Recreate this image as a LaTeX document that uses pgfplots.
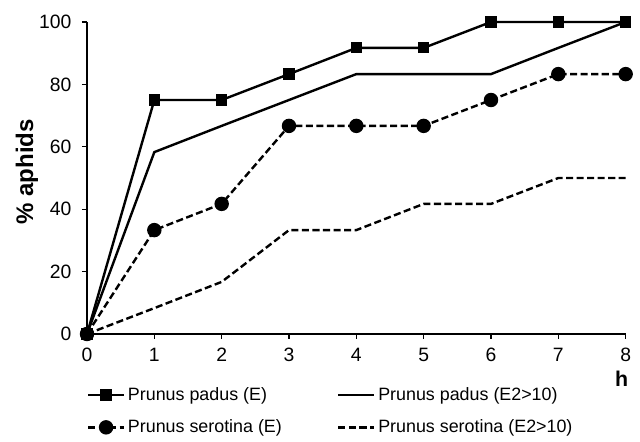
\documentclass[border=0pt]{standalone}
\usepackage{pgfplots}
\pgfplotsset{compat=1.18}
\usepackage{fontspec}
\setmainfont{Liberation Sans}
\begin{document}
\begin{tikzpicture}
\useasboundingbox (0,0) rectangle (480pt,331.5pt);
\begin{axis}[
  at={(65.25pt,81pt)}, anchor=origin,
  scale only axis, width=404pt, height=234pt,
  xmin=0, xmax=8, ymin=0, ymax=100,
  axis x line=bottom, axis y line=left,
  axis line style={-, line width=1.6pt},
  xtick={0,...,8}, ytick={0,20,...,100},
  tick align=outside, major tick length=3.75pt,
  tick style={line width=0.9pt, black},
  /pgf/number format/assume math mode=true,
  every tick label/.append style={font=\fontsize{14.5}{17}\selectfont},
  xticklabel style={yshift=-3pt},
  yticklabel style={xshift=-4.5pt},
  xlabel={h}, ylabel={\% aphids},
  every axis x label/.append style={font=\bfseries\fontsize{16}{19}\selectfont},
  every axis y label/.append style={font=\bfseries\fontsize{18}{21}\selectfont},
  xlabel style={at={(axis description cs:0.9926,0)}, anchor=center, yshift=-33.75pt},
  ylabel style={at={(axis description cs:-0.1114,0.52)}, anchor=center},
  clip=false,
  legend columns=2,
  legend cell align=left,
  legend style={draw=none, fill=none, at={(axis description cs:0,0)}, anchor=north west,
    xshift=-3.3pt, yshift=-36pt,
    font=\fontsize{13.4}{15.5}\selectfont,
    /tikz/every even column/.append style={column sep=39.5pt},
    row sep=9pt},
  legend image code/.code={\draw[mark repeat=2,mark phase=2,#1] plot coordinates {(0cm,0cm) (0.475cm,0cm) (0.95cm,0cm)};},
]
\addplot[black, line width=1.8pt, mark=square*, mark size=3.3pt, mark options={solid}] coordinates {
(0,0) (1,75) (2,75) (3,83.3) (4,91.7) (5,91.7) (6,100) (7,100) (8,100)};
\addlegendentry{Prunus padus (E)}
\addplot[black, line width=1.8pt] coordinates {
(0,0) (1,58.3) (2,66.7) (3,75) (4,83.3) (5,83.3) (6,83.3) (7,91.7) (8,100)};
\addlegendentry{Prunus padus (E2>10)}
\addplot[black, line width=1.8pt, dash pattern=on 5.3pt off 2.6pt, mark=*, mark size=4.5pt, mark options={solid}] coordinates {
(0,0) (1,33.3) (2,41.7) (3,66.7) (4,66.7) (5,66.7) (6,75) (7,83.3) (8,83.3)};
\addlegendentry{Prunus serotina (E)}
\addplot[black, line width=1.8pt, dash pattern=on 5.3pt off 2.6pt] coordinates {
(0,0) (1,8.3) (2,16.7) (3,33.3) (4,33.3) (5,41.7) (6,41.7) (7,50) (8,50)};
\addlegendentry{Prunus serotina (E2>10)}
\end{axis}
\end{tikzpicture}
\end{document}
